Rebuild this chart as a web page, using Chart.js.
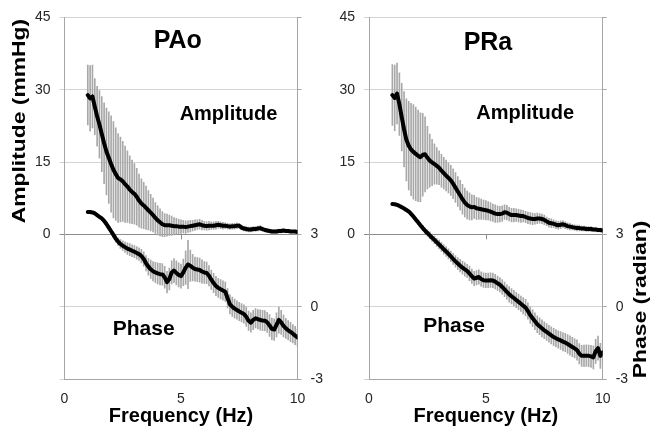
<!DOCTYPE html>
<html>
<head>
<meta charset="utf-8">
<script src="https://cdn.jsdelivr.net/npm/chart.js@4.4.0/dist/chart.umd.min.js"></script>
<style>
  body { margin: 0; background: #fff; }
  #wrap { position: relative; width: 650px; height: 437px; }
  #left-chart { position: absolute; left: 0; top: 0; }
  #right-chart { position: absolute; left: 330px; top: 0; }
</style>
</head>
<body>
<div id="wrap">
  <canvas id="left-chart" width="330" height="437"></canvas>
  <canvas id="right-chart" width="320" height="437"></canvas>
</div>
<script>
var freqs = [
  1.0, 1.1, 1.2, 1.3, 1.4, 1.5, 1.6, 1.7, 1.8, 1.9,
  2.0, 2.1, 2.2, 2.3, 2.4, 2.5, 2.6, 2.7, 2.8, 2.9,
  3.0, 3.1, 3.2, 3.3, 3.4, 3.5, 3.6, 3.7, 3.8, 3.9,
  4.0, 4.1, 4.2, 4.3, 4.4, 4.5, 4.6, 4.7, 4.8, 4.9,
  5.0, 5.1, 5.2, 5.3, 5.4, 5.5, 5.6, 5.7, 5.8, 5.9,
  6.0, 6.1, 6.2, 6.3, 6.4, 6.5, 6.6, 6.7, 6.8, 6.9,
  7.0, 7.1, 7.2, 7.3, 7.4, 7.5, 7.6, 7.7, 7.8, 7.9,
  8.0, 8.1, 8.2, 8.3, 8.4, 8.5, 8.6, 8.7, 8.8, 8.9,
  9.0, 9.1, 9.2, 9.3, 9.4, 9.5, 9.6, 9.7, 9.8, 9.9,
  10.0
];

// PAo
var paoAmp = [
  28.9, 28.2, 28.6, 26.5, 24.5, 22.8, 20.8, 18.9, 17.2, 15.9,
  14.6, 13.4, 12.5, 11.7, 11.4, 11.0, 10.4, 9.9, 9.3, 8.8,
  8.4, 7.8, 7.0, 6.4, 6.0, 5.5, 5.0, 4.5, 4.0, 3.4,
  2.9, 2.5, 2.1, 1.9, 1.9, 1.9, 1.8, 1.7, 1.7, 1.6,
  1.6, 1.6, 1.5, 1.6, 1.7, 1.8, 1.9, 2.0, 2.1, 1.9,
  1.8, 1.7, 1.8, 1.8, 1.8, 1.9, 2.0, 1.9, 1.8, 1.8,
  1.7, 1.6, 1.7, 1.7, 1.8, 1.8, 1.4, 1.2, 1.1, 1.0,
  1.0, 1.1, 1.1, 1.2, 1.3, 1.1, 0.9, 0.8, 0.7, 0.6,
  0.6, 0.6, 0.7, 0.7, 0.8, 0.7, 0.7, 0.6, 0.6, 0.6,
  0.5
];
var paoAmpSd = [
  6.2, 6.8, 6.5, 5.8, 6.2, 7.0, 7.8, 8.4, 9.0, 9.5,
  10.0, 10.0, 9.6, 9.2, 8.8, 8.3, 7.9, 7.4, 7.0, 6.6,
  6.3, 5.9, 5.5, 5.1, 4.8, 4.5, 4.1, 3.8, 3.5, 3.2,
  3.0, 2.8, 2.6, 2.4, 2.3, 2.1, 2.0, 1.8, 1.6, 1.5,
  1.4, 1.3, 1.3, 1.2, 1.2, 1.1, 1.1, 1.0, 1.0, 1.0,
  0.9, 0.9, 0.9, 0.8, 0.8, 0.8, 0.7, 0.7, 0.7, 0.6,
  0.6, 0.6, 0.6, 0.6, 0.6, 0.5, 0.5, 0.5, 0.5, 0.5,
  0.5, 0.5, 0.5, 0.5, 0.5, 0.4, 0.4, 0.4, 0.4, 0.4,
  0.4, 0.4, 0.4, 0.4, 0.3, 0.3, 0.3, 0.3, 0.3, 0.3,
  0.3
];
var paoPhase = [
  3.93, 3.93, 3.91, 3.87, 3.80, 3.73, 3.66, 3.56, 3.43, 3.28,
  3.13, 2.98, 2.82, 2.70, 2.60, 2.53, 2.47, 2.41, 2.37, 2.32,
  2.28, 2.23, 2.18, 2.10, 1.98, 1.80, 1.66, 1.55, 1.47, 1.42,
  1.38, 1.35, 1.34, 1.22, 1.02, 1.15, 1.42, 1.50, 1.40, 1.32,
  1.27, 1.42, 1.62, 1.75, 1.70, 1.62, 1.56, 1.54, 1.52, 1.46,
  1.42, 1.40, 1.28, 1.12, 0.98, 0.86, 0.78, 0.72, 0.67, 0.62,
  0.35, 0.10, 0.00, -0.08, -0.14, -0.20, -0.25, -0.30, -0.42, -0.58,
  -0.66, -0.55, -0.48, -0.52, -0.55, -0.57, -0.58, -0.65, -0.78, -0.92,
  -0.95, -0.75, -0.55, -0.65, -0.80, -0.90, -0.98, -1.05, -1.12, -1.20,
  -1.28
];
var paoPhaseSd = [
  0.05, 0.05, 0.05, 0.05, 0.05, 0.06, 0.06, 0.07, 0.08, 0.09,
  0.10, 0.12, 0.14, 0.16, 0.18, 0.20, 0.22, 0.24, 0.25, 0.25,
  0.25, 0.26, 0.26, 0.28, 0.30, 0.32, 0.35, 0.38, 0.40, 0.42,
  0.44, 0.45, 0.45, 0.45, 0.45, 0.45, 0.48, 0.50, 0.50, 0.50,
  0.50, 0.55, 0.70, 1.00, 0.65, 0.55, 0.50, 0.50, 0.50, 0.48,
  0.45, 0.45, 0.42, 0.40, 0.40, 0.40, 0.40, 0.40, 0.40, 0.40,
  0.40, 0.40, 0.40, 0.40, 0.38, 0.38, 0.38, 0.38, 0.40, 0.40,
  0.40, 0.40, 0.40, 0.40, 0.42, 0.42, 0.42, 0.42, 0.45, 0.45,
  0.45, 0.50, 0.55, 0.50, 0.45, 0.42, 0.40, 0.40, 0.38, 0.38,
  0.35
];

// PRa
var praAmp = [
  28.9, 28.3, 29.2, 27.0, 24.3, 21.8, 19.6, 18.4, 17.6, 17.1,
  16.7, 16.3, 16.0, 16.5, 16.6, 15.9, 15.3, 14.9, 14.6, 14.2,
  13.8, 13.2, 12.7, 12.2, 11.7, 11.2, 10.5, 9.7, 8.9, 8.1,
  7.3, 6.6, 6.1, 5.8, 5.6, 5.7, 5.4, 5.3, 5.2, 5.1,
  5.0, 4.9, 4.7, 4.5, 4.3, 4.2, 4.2, 4.3, 4.6, 4.5,
  4.2, 4.0, 4.0, 4.0, 3.9, 3.8, 3.8, 3.6, 3.4, 3.3,
  3.2, 3.2, 3.3, 3.3, 3.2, 3.0, 2.7, 2.4, 2.3, 2.2,
  2.0, 1.9, 2.0, 2.1, 1.9, 1.7, 1.6, 1.5, 1.4, 1.3,
  1.3, 1.2, 1.2, 1.1, 1.1, 1.1, 1.0, 1.0, 0.9, 0.9,
  0.8
];
var praAmpSd = [
  6.3, 6.8, 6.3, 6.5, 7.0, 7.8, 8.5, 9.2, 9.6, 9.8,
  9.7, 9.5, 9.2, 8.6, 7.8, 6.5, 5.5, 4.8, 4.2, 3.8,
  3.5, 3.4, 3.3, 3.2, 3.1, 3.1, 3.1, 3.1, 3.1, 3.1,
  3.1, 3.0, 2.9, 2.8, 2.6, 2.4, 2.3, 2.2, 2.1, 2.0,
  2.0, 1.9, 1.9, 1.8, 1.8, 1.7, 1.6, 1.6, 1.5, 1.5,
  1.4, 1.4, 1.4, 1.3, 1.3, 1.3, 1.2, 1.2, 1.2, 1.2,
  1.2, 1.1, 1.1, 1.0, 1.0, 1.0, 0.9, 0.9, 0.9, 0.8,
  0.8, 0.8, 0.8, 0.7, 0.7, 0.7, 0.7, 0.6, 0.6, 0.6,
  0.6, 0.5, 0.5, 0.5, 0.5, 0.5, 0.4, 0.4, 0.4, 0.4,
  0.4
];
var praPhase = [
  4.26, 4.25, 4.22, 4.18, 4.13, 4.07, 4.01, 3.95, 3.85, 3.74,
  3.62, 3.50, 3.38, 3.26, 3.15, 3.06, 2.96, 2.86, 2.77, 2.67,
  2.58, 2.48, 2.38, 2.29, 2.19, 2.09, 1.98, 1.88, 1.79, 1.70,
  1.62, 1.55, 1.48, 1.38, 1.26, 1.17, 1.20, 1.23, 1.15, 1.10,
  1.09, 1.09, 1.10, 1.09, 1.04, 0.97, 0.91, 0.82, 0.72, 0.61,
  0.51, 0.43, 0.36, 0.28, 0.20, 0.12, 0.04, -0.04, -0.18, -0.35,
  -0.48, -0.60, -0.73, -0.81, -0.90, -0.98, -1.05, -1.12, -1.19, -1.26,
  -1.31, -1.36, -1.40, -1.45, -1.49, -1.55, -1.61, -1.67, -1.73, -1.80,
  -1.95, -2.04, -2.04, -2.03, -2.04, -2.06, -2.10, -1.85, -1.72, -2.04,
  -1.90
];
var praPhaseSd = [
  0.03, 0.03, 0.03, 0.03, 0.04, 0.04, 0.05, 0.05, 0.06, 0.07,
  0.08, 0.09, 0.10, 0.11, 0.12, 0.13, 0.14, 0.15, 0.16, 0.17,
  0.18, 0.19, 0.20, 0.20, 0.21, 0.22, 0.23, 0.24, 0.25, 0.26,
  0.27, 0.28, 0.28, 0.30, 0.30, 0.30, 0.30, 0.30, 0.30, 0.30,
  0.30, 0.30, 0.30, 0.30, 0.30, 0.30, 0.30, 0.30, 0.30, 0.30,
  0.32, 0.32, 0.32, 0.32, 0.32, 0.32, 0.34, 0.34, 0.34, 0.34,
  0.35, 0.35, 0.35, 0.35, 0.35, 0.35, 0.35, 0.35, 0.35, 0.36,
  0.36, 0.36, 0.37, 0.38, 0.38, 0.39, 0.40, 0.40, 0.40, 0.42,
  0.42, 0.44, 0.45, 0.45, 0.45, 0.46, 0.48, 0.50, 0.50, 0.52,
  0.52
];

var FONT = '"Liberation Sans", Arial, sans-serif';

function points(vals) {
  return freqs.map(function(f, i) { return {x: f, y: vals[i]}; });
}
function errBars(vals, sd) {
  return freqs.map(function(f, i) { return {x: f, y: [vals[i] - sd[i], vals[i] + sd[i]]}; });
}

// text boxes inside the plot + rotated axis titles
var textPlugin = {
  id: 'panelText',
  afterDraw: function(chart, args, o) {
    var ctx = chart.ctx;
    var xs = chart.scales.x, ys = chart.scales.y;
    ctx.save();
    ctx.fillStyle = '#000';
    ctx.textAlign = 'center';
    ctx.textBaseline = 'middle';
    (o.labels || []).forEach(function(l) {
      ctx.font = 'bold ' + l.size + 'px ' + FONT;
      ctx.fillText(l.text, xs.getPixelForValue(l.x), ys.getPixelForValue(l.y));
    });
    (o.titles || []).forEach(function(t) {
      var s = chart.scales[t.scale];
      ctx.save();
      ctx.translate(t.px, s.getPixelForValue(t.at));
      ctx.rotate(-Math.PI / 2);
      ctx.scale(1.27, 1);
      ctx.font = 'bold 18px ' + FONT;
      ctx.fillText(t.text, 0, 0);
      ctx.restore();
    });
    // small tick for x = 5 hanging under the zero line
    var zx = xs.getPixelForValue(5), zy = ys.getPixelForValue(0);
    ctx.strokeStyle = '#8c8c8c';
    ctx.lineWidth = 1;
    ctx.beginPath();
    ctx.moveTo(Math.round(zx) + 0.5, zy);
    ctx.lineTo(Math.round(zx) + 0.5, zy + 5);
    ctx.stroke();
    ctx.restore();
  }
};

function makePanel(id, amp, ampSd, phase, phaseSd, leftW, rightW, text) {
  return new Chart(document.getElementById(id), {
    type: 'line',
    data: {
      datasets: [
        { type: 'line', data: points(amp), yAxisID: 'y', borderColor: '#000', borderWidth: 4,
          pointRadius: 0, tension: 0, borderJoinStyle: 'round', borderCapStyle: 'round', order: 0 },
        { type: 'line', data: points(phase), yAxisID: 'y1', borderColor: '#000', borderWidth: 4,
          pointRadius: 0, tension: 0, borderJoinStyle: 'round', borderCapStyle: 'round', order: 0 },
        { type: 'bar', data: errBars(amp, ampSd), yAxisID: 'y', backgroundColor: '#a8a8a8',
          barThickness: 1, grouped: false, order: 1 },
        { type: 'bar', data: errBars(phase, phaseSd), yAxisID: 'y1', backgroundColor: '#a8a8a8',
          barThickness: 1, grouped: false, order: 1 }
      ]
    },
    options: {
      responsive: false,
      animation: false,
      events: [],
      layout: { padding: { top: 14.7, left: 0, right: 0, bottom: 0 } },
      plugins: { legend: { display: false }, tooltip: { enabled: false }, panelText: text },
      scales: {
        x: {
          type: 'linear', min: 0, max: 10, offset: false,
          grid: { display: false, drawTicks: false },
          border: { color: '#a6a6a6' },
          ticks: { stepSize: 5, padding: 12, color: '#262626', font: { family: FONT, size: 14 } },
          title: { display: true, text: 'Frequency (Hz)', color: '#000', padding: { top: 0, bottom: 9 },
                   font: { family: FONT, size: 20, weight: 'bold' } },
          afterFit: function(s) { s.height = 58; }
        },
        y: {
          position: 'left', min: -30, max: 45,
          grid: { color: function(c) { return c.tick && c.tick.value === 0 ? '#8c8c8c' : '#d4d4d4'; },
                  tickLength: 5 },
          border: { color: '#a6a6a6' },
          ticks: { stepSize: 15, padding: 9, color: '#262626', font: { family: FONT, size: 14 },
                   callback: function(v) { return v >= 0 ? v : ''; } },
          afterFit: function(s) { s.width = leftW; }
        },
        y1: {
          position: 'right', min: -3, max: 12,
          grid: { drawOnChartArea: false, color: '#a6a6a6', tickLength: 4 },
          border: { color: '#a6a6a6' },
          ticks: { stepSize: 3, padding: 9, color: '#262626', font: { family: FONT, size: 14 },
                   callback: function(v) { return v <= 3 ? v : ''; } },
          afterFit: function(s) { s.width = rightW; }
        }
      }
    },
    plugins: [textPlugin]
  });
}

makePanel('left-chart', paoAmp, paoAmpSd, paoPhase, paoPhaseSd, 64.5, 32.5, {
  labels: [
    { text: 'PAo', x: 4.86, y: 40, size: 25 },
    { text: 'Amplitude', x: 7.04, y: 24.8, size: 20 },
    { text: 'Phase', x: 3.4, y: -19.6, size: 21 }
  ],
  titles: [ { text: 'Amplitude (mmHg)', scale: 'y', at: 23.5, px: 20 } ]
});

makePanel('right-chart', praAmp, praAmpSd, praPhase, praPhaseSd, 39, 47.3, {
  labels: [
    { text: 'PRa', x: 5.09, y: 39.6, size: 25 },
    { text: 'Amplitude', x: 6.68, y: 25, size: 20 },
    { text: 'Phase', x: 3.64, y: -19, size: 21 }
  ],
  titles: [ { text: 'Phase (radian)', scale: 'y1', at: 0.3, px: 311 } ]
});
</script>
</body>
</html>
